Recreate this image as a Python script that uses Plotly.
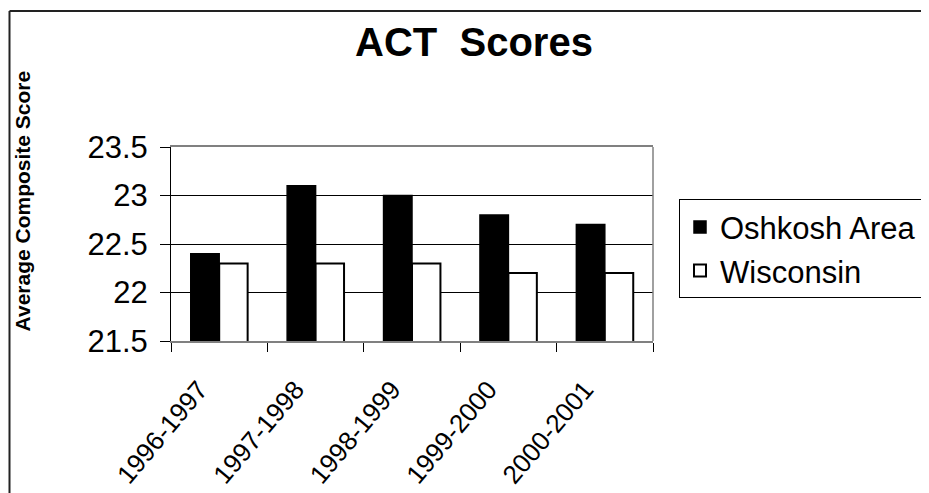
import plotly.graph_objects as go

categories = ["1996-1997", "1997-1998", "1998-1999", "1999-2000", "2000-2001"]
oshkosh = [22.4, 23.1, 23.0, 22.8, 22.7]
wisconsin = [22.3, 22.3, 22.3, 22.2, 22.2]
y_ticks = [21.5, 22, 22.5, 23, 23.5]
y_tick_text = ["21.5", "22", "22.5", "23", "23.5"]

FONT = "Arial, Liberation Sans, sans-serif"

# Figure pixel layout (page has the browser's default 8px body margin)
W, H = 929, 493
L, T = 163, 139
PR, PB = 645, 335
R, B = W - PR, H - PB
pw = PR - L
ph = PB - T

def px_x(x):
    return (x - L) / pw

def px_y(y):
    return (PB - y) / ph

fig = go.Figure()
fig.add_trace(go.Bar(
    x=categories, y=oshkosh, name="Oshkosh Area",
    marker=dict(color="black", line=dict(color="black", width=1.5)),
))
fig.add_trace(go.Bar(
    x=categories, y=wisconsin, name="Wisconsin",
    marker=dict(color="white", line=dict(color="black", width=2)),
))

fig.update_layout(
    width=W, height=H,
    margin=dict(l=L, r=R, t=T, b=B, pad=0),
    paper_bgcolor="white", plot_bgcolor="white",
    barmode="group", bargap=0.41, bargroupgap=0,
    font=dict(family=FONT, color="black"),
    title=dict(text="<b>ACT  Scores</b>", font=dict(size=40, family=FONT, color="black"),
               x=px_x(466), xref="paper", xanchor="center",
               y=1 - 34 / H, yref="container", yanchor="middle"),
    legend=dict(x=px_x(671), y=px_y(192), xanchor="left", yanchor="top",
                xref="paper", yref="paper",
                font=dict(size=31, family=FONT, color="black"),
                bordercolor="black", borderwidth=1, bgcolor="white",
                tracegroupgap=0, itemwidth=30),
    showlegend=True,
)

fig.update_yaxes(
    range=[21.5, 23.5], tickvals=y_ticks, ticktext=y_tick_text,
    ticks="outside", ticklen=10, tickcolor="black", tickwidth=1,
    tickfont=dict(size=31, family=FONT, color="black"),
    ticklabelstandoff=6,
    showline=True, linecolor="black", linewidth=1, mirror=False,
    showgrid=True, gridcolor="black", gridwidth=1,
    zeroline=False,
)
fig.update_xaxes(
    type="category", tickson="boundaries",
    ticks="outside", ticklen=9, tickcolor="black", tickwidth=1,
    tickangle=-50, tickfont=dict(size=26, family=FONT, color="black"),
    ticklabelstandoff=21, ticklabelshift=-20,
    showline=True, linecolor="#808080", linewidth=1.5, mirror=True,
    showgrid=False,
)

# right border of plot area (gray)
fig.add_shape(type="line", xref="paper", yref="paper", x0=1, x1=1, y0=0, y1=1,
              line=dict(color="#808080", width=1.5))
# outer chart border: only top and left edges are in view
fig.add_shape(type="line", xref="paper", yref="paper",
              x0=px_x(1.5), x1=px_x(W), y0=px_y(1.5), y1=px_y(1.5),
              line=dict(color="#222222", width=2), layer="below")
fig.add_shape(type="line", xref="paper", yref="paper",
              x0=px_x(1.5), x1=px_x(1.5), y0=px_y(1.5), y1=px_y(H),
              line=dict(color="#222222", width=2), layer="below")

# y-axis title
fig.add_annotation(text="<b>Average Composite Score</b>", textangle=-90,
                   xref="paper", yref="paper", x=px_x(14), y=px_y(194),
                   xanchor="center", yanchor="middle", showarrow=False,
                   font=dict(size=21, family=FONT, color="black"))

fig.write_html("out.html", config={"displayModeBar": False},
               post_script="document.documentElement.style.overflow='hidden';")
